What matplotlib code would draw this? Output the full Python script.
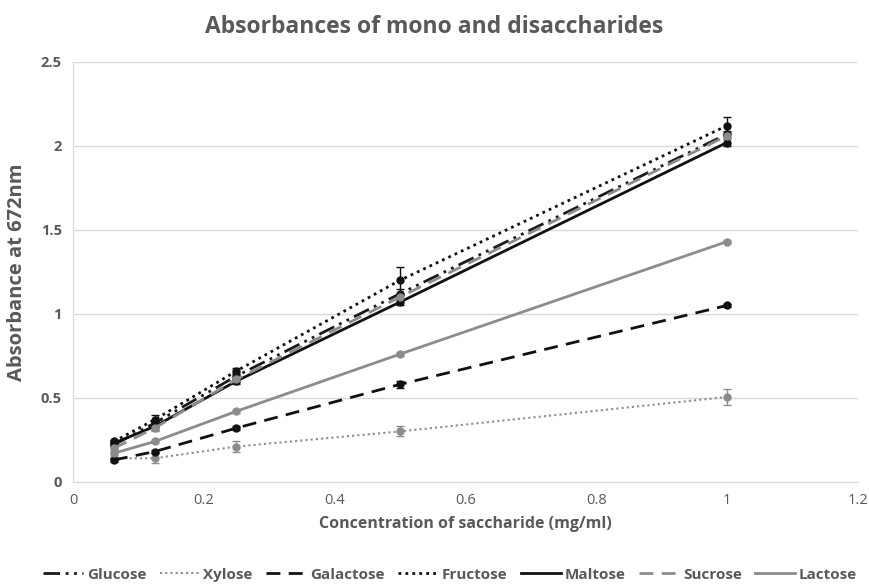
import matplotlib
matplotlib.use("Agg")
import matplotlib.pyplot as plt
from matplotlib import font_manager
from matplotlib.lines import Line2D

fams = [f.name for f in font_manager.fontManager.ttflist]
FONT = "Liberation Sans Narrow" if "Liberation Sans Narrow" in fams else "Open Sans"
plt.rcParams['font.family'] = [FONT, 'DejaVu Sans']

TXT = "#595959"

conc = [0.0625, 0.125, 0.25, 0.5, 1.0]
glucose = [0.22, 0.35, 0.63, 1.12, 2.07]
xylose = [0.14, 0.14, 0.21, 0.30, 0.505]
galactose = [0.13, 0.18, 0.32, 0.58, 1.05]
fructose = [0.24, 0.37, 0.66, 1.20, 2.12]
maltose = [0.23, 0.33, 0.60, 1.07, 2.02]
sucrose = [0.20, 0.32, 0.61, 1.10, 2.06]
lactose = [0.17, 0.24, 0.42, 0.76, 1.43]

glucose_err = [0.01, 0.02, 0.02, 0.03, 0.02]
xylose_err = [0.01, 0.03, 0.03, 0.03, 0.05]
galactose_err = [0.01, 0.01, 0.01, 0.02, 0.01]
fructose_err = [0.01, 0.03, 0.02, 0.08, 0.05]
maltose_err = [0.01, 0.02, 0.02, 0.02, 0.02]
sucrose_err = [0.01, 0.02, 0.02, 0.02, 0.02]
lactose_err = [0.01, 0.01, 0.01, 0.01, 0.01]

series = [
    ("Glucose", glucose, glucose_err, "#1a1a1a", (0, (6, 2, 1, 2, 1, 2)), 2.0),
    ("Xylose", xylose, xylose_err, "#8c8c8c", (0, (1, 1.5)), 1.5),
    ("Galactose", galactose, galactose_err, "#111111", (0, (5, 3)), 2.0),
    ("Fructose", fructose, fructose_err, "#111111", (0, (1, 1.5)), 2.0),
    ("Maltose", maltose, maltose_err, "#111111", "-", 2.0),
    ("Sucrose", sucrose, sucrose_err, "#8c8c8c", (0, (5, 3)), 2.0),
    ("Lactose", lactose, lactose_err, "#8c8c8c", "-", 2.0),
]

fig = plt.figure(figsize=(8.69, 5.84), dpi=100)
ax = fig.add_axes([0.084, 0.175, 0.903, 0.719])

for name, y, e, c, ls, lw in series:
    ax.errorbar(conc, y, yerr=e, color=c, linestyle=ls, linewidth=lw,
                marker='o', markersize=5, capsize=3, elinewidth=1,
                ecolor=c, label=name)

ax.set_xlim(0, 1.2)
ax.set_ylim(0, 2.5)
ax.set_xticks([0, 0.2, 0.4, 0.6, 0.8, 1, 1.2])
ax.set_xticklabels(["0", "0.2", "0.4", "0.6", "0.8", "1", "1.2"])
ax.set_yticks([0, 0.5, 1, 1.5, 2, 2.5])
ax.set_yticklabels(["0", "0.5", "1", "1.5", "2", "2.5"])
ax.yaxis.grid(True, color="#d9d9d9", linewidth=1)
ax.set_axisbelow(True)
for s in ["top", "right"]:
    ax.spines[s].set_visible(False)
for s in ["left", "bottom"]:
    ax.spines[s].set_color("#d9d9d9")
ax.tick_params(axis='both', length=0, colors=TXT, labelsize=10.5, pad=8)
for lbl in ax.get_yticklabels():
    lbl.set_fontweight('bold')

ax.set_xlabel("Concentration of saccharide (mg/ml)", fontsize=11.5, color=TXT,
              fontweight='bold', labelpad=6)
ax.set_ylabel("Absorbance at 672nm", fontsize=14.5, color=TXT,
              fontweight='bold', labelpad=10)
fig.suptitle("Absorbances of mono and disaccharides", fontsize=16.5,
             color=TXT, fontweight='bold', y=0.975)

handles = [Line2D([0], [0], color=c, linestyle=ls, linewidth=lw)
           for name, y, e, c, ls, lw in series]
leg = fig.legend(handles, [s[0] for s in series], loc='center',
                 bbox_to_anchor=(0.518, 0.016), ncol=7, frameon=False,
                 fontsize=11, handlelength=2.6, handletextpad=0.25,
                 columnspacing=0.9)
for t in leg.get_texts():
    t.set_color(TXT)
    t.set_fontweight('bold')

fig.savefig("out.png", dpi=100)
